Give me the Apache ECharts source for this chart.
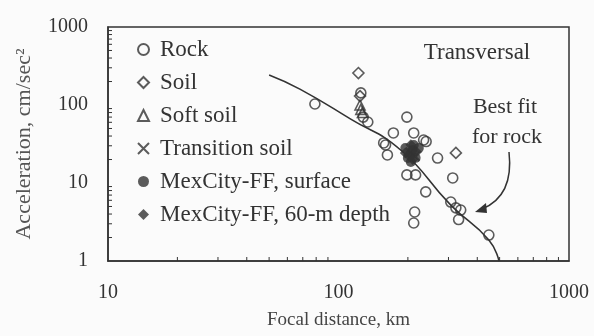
<!DOCTYPE html>
<html>
<head>
<meta charset="utf-8">
<script src="https://cdn.jsdelivr.net/npm/echarts@6/dist/echarts.min.js"></script>
<style>
  html, body { margin: 0; padding: 0; background: #fbfbfb; }
  #chart { width: 594px; height: 336px; }
</style>
</head>
<body>
<div id="chart"></div>
<script>
// values: [focal distance km, acceleration cm/s2]
var rock = [[79, 103], [125, 143], [128, 70], [134, 60.5], [173, 43.8], [198, 70], [212, 43.8],
    [157, 32.6], [160, 30.7], [163, 22.9], [234, 35.6], [240, 34], [269, 20.9], [198, 12.7],
    [216, 12.7], [313, 11.6], [239, 7.7], [307, 5.7], [323, 4.8], [339, 4.5], [332, 3.4],
    [214, 4.25], [212, 3.07], [449, 2.15]];
var soil = [[122, 257], [124, 130], [323, 24.3]];
var softSoil = [[124, 100], [125, 88], [127, 80]];
var transitionSoil = [[205, 25], [215, 22]];
var mexSurface = [[195, 28], [206, 24], [210, 26.5], [216, 21], [200, 20.9], [223, 28], [206, 18.6], [212, 30.7]];
var mexDepth = [[201, 22.9], [210, 20], [218, 25], [195, 24.3], [206, 31]];
var fitRock = [[50, 243], [68, 160], [113, 66], [186, 26.5], [307, 5.2], [449, 1.86], [497, 1]];
// minor tick positions
var xMinor = [20, 30, 40, 50, 60, 70, 80, 90, 200, 300, 400, 500, 600, 700, 800, 900];
var yMinor = [2, 3, 4, 5, 6, 7, 8, 9, 20, 30, 40, 50, 60, 70, 80, 90, 200, 300, 400, 500, 600, 700, 800, 900];

var ink = '#333';
var serif = 'Liberation Serif';
var chart = echarts.init(document.getElementById('chart'));

function hollow(name, symbol, size, data) {
    return {
        name: name, type: 'scatter', symbol: symbol, symbolSize: size, data: data,
        itemStyle: { color: 'rgba(0,0,0,0)', borderColor: ink, borderWidth: 1.6 }
    };
}

var option = {
    animation: false,
    backgroundColor: '#fbfbfb',
    grid: {
        left: 108, right: 25, top: 27, bottom: 75, show: true, borderColor: ink, borderWidth: 1.5,
        containLabel: false, outerBoundsMode: 'none'
    },
    legend: {
        orient: 'vertical', left: 132, top: 33, itemWidth: 11, itemHeight: 11, itemGap: 10,
        textStyle: { fontFamily: serif, fontSize: 23, color: ink, padding: [0, 0, 0, 6] },
        data: ['Rock', 'Soil', 'Soft soil', 'Transition soil', 'MexCity-FF, surface', 'MexCity-FF, 60-m depth']
    },
    xAxis: {
        type: 'log', min: 10, max: 1000, logBase: 10,
        name: 'Focal distance, km', nameLocation: 'middle', nameGap: 50, nameMoveOverlap: false,
        nameTextStyle: { fontFamily: serif, fontSize: 19, color: '#444' },
        axisLine: { lineStyle: { color: ink, width: 1.5 } },
        axisTick: { show: false },
        axisLabel: { fontFamily: serif, fontSize: 20, color: ink, margin: 22, formatter: function (v) { return String(v); } },
        splitLine: { show: false }
    },
    yAxis: {
        type: 'log', min: 1, max: 1000, logBase: 10,
        name: 'Acceleration, cm/sec²', nameLocation: 'middle', nameGap: 73, nameMoveOverlap: false,
        nameTextStyle: { fontFamily: serif, fontSize: 22, color: '#555' },
        axisLine: { lineStyle: { color: ink, width: 1.5 } },
        axisTick: { show: false },
        axisLabel: { fontFamily: serif, fontSize: 20, color: ink, margin: 20, formatter: function (v) { return String(v); } },
        splitLine: { show: false }
    },
    series: [
        hollow('Rock', 'circle', 10, rock),
        hollow('Soil', 'diamond', 11, soil),
        hollow('Soft soil', 'triangle', 10, softSoil),
        {
            name: 'Transition soil', type: 'scatter', symbol: 'path://M0,0L10,10M10,0L0,10', symbolSize: 9,
            data: transitionSoil, itemStyle: { color: 'rgba(0,0,0,0)', borderColor: ink, borderWidth: 2 }
        },
        { name: 'MexCity-FF, surface', type: 'scatter', symbol: 'circle', symbolSize: 10, data: mexSurface, itemStyle: { color: ink } },
        { name: 'MexCity-FF, 60-m depth', type: 'scatter', symbol: 'diamond', symbolSize: 11, data: mexDepth, itemStyle: { color: ink } },
        {
            name: 'fit', type: 'line', data: fitRock, smooth: true, showSymbol: false, z: 1,
            lineStyle: { color: ink, width: 1.6 }
        }
    ]
};
chart.setOption(option);

// small inward ticks + annotations
var g = [];
xMinor.forEach(function (v) {
    var p = chart.convertToPixel({ gridIndex: 0 }, [v, 1]);
    g.push({ type: 'line', shape: { x1: p[0], y1: p[1], x2: p[0], y2: p[1] - 4 }, style: { stroke: ink, lineWidth: 1 } });
});
yMinor.forEach(function (v) {
    var p = chart.convertToPixel({ gridIndex: 0 }, [10, v]);
    g.push({ type: 'line', shape: { x1: p[0], y1: p[1], x2: p[0] + 4, y2: p[1] }, style: { stroke: ink, lineWidth: 1 } });
});
g.push(
    { type: 'text', x: 477, y: 53, style: { text: 'Transversal', font: '23px "Liberation Serif"', fill: ink, align: 'center', verticalAlign: 'middle' } },
    { type: 'text', x: 505, y: 107, style: { text: 'Best fit', font: '22px "Liberation Serif"', fill: ink, align: 'center', verticalAlign: 'middle' } },
    { type: 'text', x: 507, y: 137, style: { text: 'for rock', font: '22px "Liberation Serif"', fill: ink, align: 'center', verticalAlign: 'middle' } },
    { type: 'bezierCurve', shape: { x1: 509, y1: 152, cpx1: 514, cpy1: 196, x2: 482, y2: 209 }, style: { stroke: ink, lineWidth: 1.5, fill: null } },
    { type: 'polygon', shape: { points: [[475, 212], [486, 203], [487, 213]] }, style: { fill: ink } }
);
chart.setOption({ graphic: g });
</script>
</body>
</html>
